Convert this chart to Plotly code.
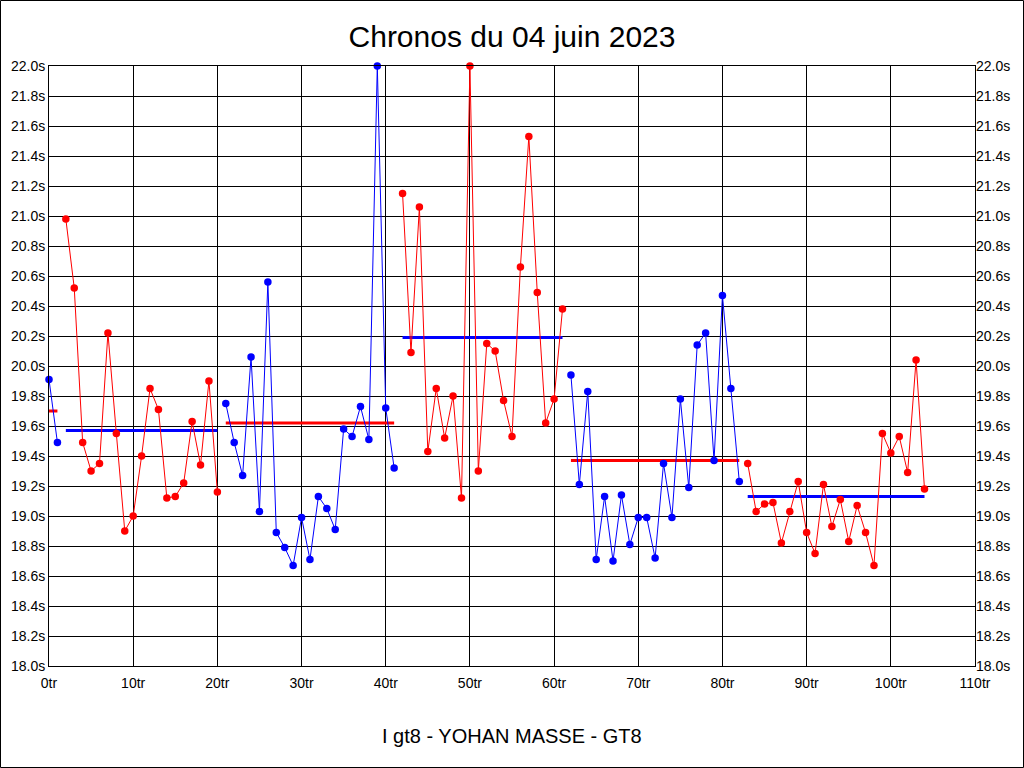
import plotly.graph_objects as go

# ---- data ----
stint_first_laps = [0, 2, 21, 42, 62, 83]
stint_colors = ["#0000FF", "#FF0000", "#0000FF", "#FF0000", "#0000FF", "#FF0000"]
avg_colors = ["#FF0000", "#0000FF", "#FF0000", "#0000FF", "#FF0000", "#0000FF"]

stint1 = [19.91, 19.49]
stint2 = [20.98, 20.52, 19.49, 19.30, 19.35, 20.22, 19.55, 18.90, 19.00, 19.40,
          19.85, 19.71, 19.12, 19.13, 19.22, 19.63, 19.34, 19.90, 19.16]
stint3 = [19.75, 19.49, 19.27, 20.06, 19.03, 20.56, 18.89, 18.79, 18.67, 18.99,
          18.71, 19.13, 19.05, 18.91, 19.58, 19.53, 19.73, 19.51, 22.00, 19.72, 19.32]
stint4 = [21.15, 20.09, 21.06, 19.43, 19.85, 19.52, 19.80, 19.12, 22.00, 19.30,
          20.15, 20.10, 19.77, 19.53, 20.66, 21.53, 20.49, 19.62, 19.78, 20.38]
stint5 = [19.94, 19.21, 19.83, 18.71, 19.13, 18.70, 19.14, 18.81, 18.99, 18.99,
          18.72, 19.35, 18.99, 19.78, 19.19, 20.14, 20.22, 19.37, 20.47, 19.85, 19.23]
stint6 = [19.35, 19.03, 19.08, 19.09, 18.82, 19.03, 19.23, 18.89, 18.75, 19.21,
          18.93, 19.11, 18.83, 19.07, 18.89, 18.67, 19.55, 19.42, 19.53, 19.29,
          20.04, 19.18]
stints = [stint1, stint2, stint3, stint4, stint5, stint6]
stint_avgs = [19.70, 19.57, 19.62, 20.19, 19.37, 19.13]

title_text = "Chronos du 04 juin 2023"
footer_text = "I gt8 - YOHAN MASSE - GT8"

# ---- figure ----
W, H = 1024, 768
ML, MR, MT, MB = 49, 49, 66, 102
PW, PH = W - ML - MR, H - MT - MB
FONT = "Liberation Sans, Arial, sans-serif"

fig = go.Figure()
for first, vals, col, acol, avg in zip(stint_first_laps, stints, stint_colors, avg_colors, stint_avgs):
    laps = list(range(first, first + len(vals)))
    fig.add_trace(go.Scatter(
        x=[laps[0], laps[-1]], y=[avg, avg], mode="lines",
        line=dict(color=acol, width=3), hoverinfo="skip", cliponaxis=False))
    fig.add_trace(go.Scatter(
        x=laps, y=vals, mode="lines+markers",
        line=dict(color=col, width=1),
        marker=dict(color=col, size=7.5, line=dict(width=0)),
        cliponaxis=False))

fig.add_trace(go.Scatter(x=[0], y=[18], yaxis="y2", mode="markers",
                         marker=dict(opacity=0), hoverinfo="skip"))

axis_font = dict(family=FONT, size=14, color="#000000")
fig.update_layout(
    width=W, height=H,
    margin=dict(l=ML, r=MR, t=MT, b=MB, pad=0),
    paper_bgcolor="#FFFFFF", plot_bgcolor="#FFFFFF",
    showlegend=False,
    title=dict(text=title_text, x=0.5, xanchor="center", xref="paper",
               y=1 - 36 / H, yanchor="middle", yref="container",
               font=dict(family=FONT, size=30, color="#000000")),
    xaxis=dict(range=[0, 110], dtick=10, tick0=0, ticksuffix="tr",
               showgrid=True, gridcolor="#000000", gridwidth=1,
               showline=True, linecolor="#000000", linewidth=1, mirror=True,
               zeroline=False, ticks="", tickfont=axis_font, fixedrange=True,
               ticklabelstandoff=4),
    yaxis=dict(range=[18, 22], dtick=0.2, tick0=18, tickformat=".1f", ticksuffix="s",
               showgrid=True, gridcolor="#000000", gridwidth=1,
               showline=True, linecolor="#000000", linewidth=1, mirror=True,
               zeroline=False, ticks="", tickfont=axis_font, fixedrange=True),
    yaxis2=dict(range=[18, 22], dtick=0.2, tick0=18, tickformat=".1f", ticksuffix="s",
                overlaying="y", side="right", showgrid=False, zeroline=False,
                showline=False, ticks="", tickfont=axis_font, fixedrange=True),
    annotations=[dict(text=footer_text, x=0.5, xref="paper", xanchor="center",
                      y=(666 - 736) / PH, yref="paper", yanchor="middle",
                      showarrow=False, font=dict(family=FONT, size=20, color="#000000"))],
    shapes=[dict(type="rect", xref="paper", yref="paper",
                 x0=(0.5 - ML) / PW, x1=(W - 0.5 - ML) / PW,
                 y0=(666 - (H - 0.5)) / PH, y1=(666 - 0.5) / PH,
                 line=dict(color="#000000", width=1), fillcolor="rgba(0,0,0,0)",
                 layer="above")],
)

fig.write_html("out.html", config={"displayModeBar": False},
               post_script="document.body.style.margin='0';document.body.style.overflow='hidden';")
